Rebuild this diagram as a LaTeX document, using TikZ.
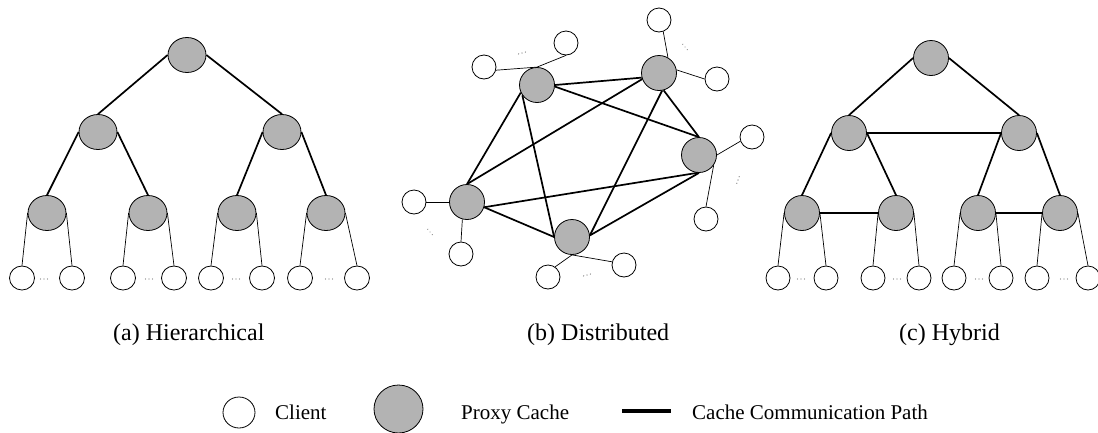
\documentclass[tikz,border=0pt]{standalone}
\usepackage{fontspec}
\setmainfont{Liberation Serif}
\usetikzlibrary{shapes.geometric}
\definecolor{proxygray}{RGB}{179,179,179}
\definecolor{dotgray}{RGB}{120,120,120}
\tikzset{
  proxy/.style={ellipse, draw=black, line width=0.8pt, fill=proxygray, minimum width=35pt, minimum height=35pt, inner sep=0pt},
  hproxy/.style={proxy, minimum width=38pt},
  client/.style={ellipse, draw=black, line width=0.8pt, fill=white, minimum width=24pt, minimum height=24pt, inner sep=0pt},
  hclient/.style={client, minimum width=25pt},
  commpath/.style={line width=1.7pt},
  clink/.style={line width=0.7pt},
  caption/.style={anchor=base west, inner sep=0pt, font=\fontsize{24}{28}\selectfont},
  legendtext/.style={anchor=base west, inner sep=0pt, font=\fontsize{21}{25}\selectfont},
  pics/cdots/.style={code={\foreach \i in {-1,0,1} \fill[dotgray] (\i*3.5,0) circle[radius=0.65pt];}}
}
\begin{document}
\begin{tikzpicture}[x=1pt,y=-1pt]
\useasboundingbox (0,0) rectangle (1098,432);
% ---------------- (a) Hierarchical ----------------
\node[hproxy] (hr) at (187,55) {};
\node[hproxy] (h1) at (98,132) {};
\node[hproxy] (h2) at (282,132) {};
\node[hproxy] (h11) at (47,213) {};
\node[hproxy] (h12) at (148,213) {};
\node[hproxy] (h21) at (237,213) {};
\node[hproxy] (h22) at (326,213) {};
\foreach \n/\x in {ha/22,hb/72,hc/123,hd/174,he/211,hf/262,hg/300,hh/357}
  \node[hclient] (\n) at (\x,278) {};
\draw[commpath] (hr.west) -- (h1.north);
\draw[commpath] (hr.east) -- (h2.north);
\draw[commpath] (h1.west) -- (h11.north);
\draw[commpath] (h1.east) -- (h12.north);
\draw[commpath] (h2.west) -- (h21.north);
\draw[commpath] (h2.east) -- (h22.north);
\draw[clink] (h11.west) -- (ha.north);
\draw[clink] (h11.east) -- (hb.north);
\draw[clink] (h12.west) -- (hc.north);
\draw[clink] (h12.east) -- (hd.north);
\draw[clink] (h21.west) -- (he.north);
\draw[clink] (h21.east) -- (hf.north);
\draw[clink] (h22.west) -- (hg.north);
\draw[clink] (h22.east) -- (hh.north);
\foreach \x in {44,149,236,329} \pic at (\x,279) {cdots};
% ---------------- (b) Distributed ----------------
\node[proxy] (A) at (537,85) {};
\node[proxy] (B) at (659,73) {};
\node[proxy] (C) at (699,155) {};
\node[proxy] (D) at (467,202) {};
\node[proxy] (E) at (572,237) {};
\node[client] (a1) at (484,67) {};
\node[client] (a2) at (566,43) {};
\node[client] (b1) at (659,20) {};
\node[client] (b2) at (717,79) {};
\node[client] (c1) at (752,137) {};
\node[client] (c2) at (706,219) {};
\node[client] (d1) at (414,202) {};
\node[client] (d2) at (461,254) {};
\node[client] (e1) at (548,277) {};
\node[client] (e2) at (624,265) {};
\draw[commpath] (A.east) -- (B.195);
\draw[commpath] (A.-5) -- (C.north);
\draw[commpath] (A.205) -- (D.north);
\draw[commpath] (A.215) -- (E.west);
\draw[commpath] (B.200) -- (D.north);
\draw[commpath] (B.285) -- (C.north);
\draw[commpath] (B.280) -- (E.5);
\draw[commpath] (C.265) -- (D.343);
\draw[commpath] (C.270) -- (E.5);
\draw[commpath] (D.343) -- (E.west);
\draw[clink] (A.north) -- (a1.-15);
\draw[clink] (A.north) -- (a2.south);
\draw[clink] (B.60) -- (b1.-70);
\draw[clink] (B.10) -- (b2.west);
\draw[clink] (C.east) -- (c1.200);
\draw[clink] (C.-35) -- (c2.north);
\draw[clink] (D.west) -- (d1.east);
\draw[clink] (D.255) -- (d2.north);
\draw[clink] (E.south) -- (e1.55);
\draw[clink] (E.south) -- (e2.165);
\pic[rotate=15] at (522,53) {cdots};
\pic[rotate=-50] at (685,47) {cdots};
\pic[rotate=70] at (738,180) {cdots};
\pic[rotate=-50] at (430,232) {cdots};
\pic[rotate=15] at (587,275) {cdots};
% ---------------- (c) Hybrid ----------------
\node[proxy] (yr) at (931,58) {};
\node[proxy] (y1) at (849,133) {};
\node[proxy] (y2) at (1019,133) {};
\node[proxy] (y11) at (802,213) {};
\node[proxy] (y12) at (896,213) {};
\node[proxy] (y21) at (978,213) {};
\node[proxy] (y22) at (1060,213) {};
\foreach \n/\x in {ya/778,yb/826,yc/873,yd/919,ye/954,yf/1001,yg/1037,yh/1088}
  \node[client] (\n) at (\x,278) {};
\draw[commpath] (yr.west) -- (y1.north);
\draw[commpath] (yr.east) -- (y2.north);
\draw[commpath] (y1.east) -- (y2.west);
\draw[commpath] (y1.west) -- (y11.north);
\draw[commpath] (y1.east) -- (y12.north);
\draw[commpath] (y2.west) -- (y21.north);
\draw[commpath] (y2.east) -- (y22.north);
\draw[commpath] (y11.east) -- (y12.west);
\draw[commpath] (y21.east) -- (y22.west);
\draw[clink] (y11.west) -- (ya.north);
\draw[clink] (y11.east) -- (yb.north);
\draw[clink] (y12.west) -- (yc.north);
\draw[clink] (y12.east) -- (yd.north);
\draw[clink] (y21.west) -- (ye.north);
\draw[clink] (y21.east) -- (yf.north);
\draw[clink] (y22.west) -- (yg.north);
\draw[clink] (y22.east) -- (yh.north);
\foreach \x in {801,897,979,1064} \pic at (\x,279) {cdots};
% ---------------- captions ----------------
\node[caption] (capa) at (113,340) {(a) Hierarchical};
\node[caption] (capb) at (527,340) {(b) Distributed};
\node[caption] (capc) at (899,340) {(c) Hybrid};
% ---------------- legend ----------------
\node[client, minimum width=32pt, minimum height=31pt] (lclient) at (239,412.5) {};
\node[legendtext] (tclient) at (275,419) {Client};
\node[proxy, minimum width=49pt, minimum height=48pt] (lproxy) at (398.5,409) {};
\node[legendtext] (tproxy) at (461,419) {Proxy Cache};
\coordinate (ls) at (622,411);
\coordinate (le) at (671,411);
\draw[line width=4pt] (ls) -- (le);
\node[legendtext] (tpath) at (692,419) {Cache Communication Path};
\end{tikzpicture}
\end{document}
